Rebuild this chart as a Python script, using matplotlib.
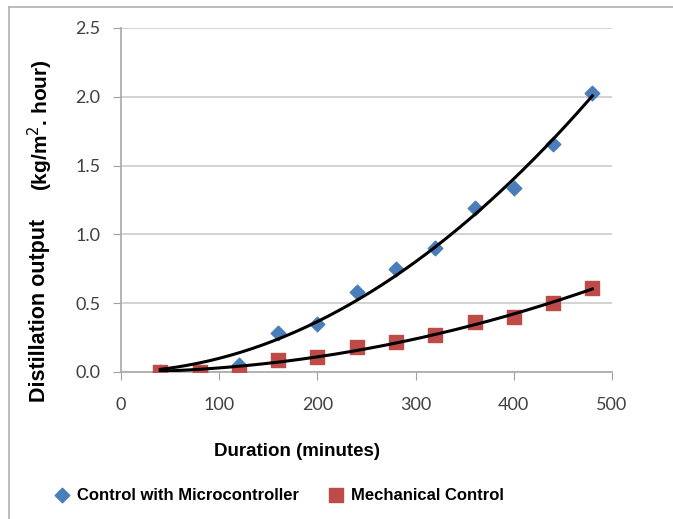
import numpy as np
import matplotlib
matplotlib.use('Agg')
import matplotlib.pyplot as plt
from matplotlib.lines import Line2D

# data
duration = [40, 80, 120, 160, 200, 240, 280, 320, 360, 400, 440, 480]
micro = [0.0, 0.0, 0.05, 0.28, 0.35, 0.58, 0.75, 0.90, 1.19, 1.34, 1.66, 2.03]
mech = [0.0, 0.0, 0.0, 0.09, 0.11, 0.18, 0.22, 0.27, 0.36, 0.40, 0.50, 0.61]

xticks = [0, 100, 200, 300, 400, 500]
yticks = [0.0, 0.5, 1.0, 1.5, 2.0, 2.5]

label_font = ['Liberation Sans Narrow', 'Liberation Sans', 'DejaVu Sans']
tick_font = ['Lato', 'DejaVu Sans']

fig = plt.figure(figsize=(6.73, 5.19), dpi=100)
ax = fig.add_axes([121/673, 1 - 372/519, 491/673, 344/519])

ax.scatter(duration, micro, marker='D', s=55, color='#4a7ebb', zorder=3,
           label='Control with Microcontroller')
ax.scatter(duration, mech, marker='s', s=110, color='#be4b48', zorder=3,
           label='Mechanical Control')

# 2nd order trend lines, intercept set to 0
x = np.array(duration, float)
xs = np.linspace(x[0], x[-1], 200)
A = np.column_stack([x**2, x])
for ys in (micro, mech):
    c, *_ = np.linalg.lstsq(A, np.array(ys), rcond=None)
    ax.plot(xs, c[0]*xs**2 + c[1]*xs, color='black', lw=2.2, zorder=4)

ax.set_xlim(0, 500)
ax.set_ylim(0, 2.5)
ax.set_xticks(xticks)
ax.set_yticks(yticks)
ax.set_yticklabels([f'{v:.1f}' for v in yticks])
for lab in ax.get_xticklabels() + ax.get_yticklabels():
    lab.set_family(tick_font)
    lab.set_fontsize(13)
    lab.set_color('#404040')
ax.tick_params(axis='both', length=6, color='#a0a0a0')
ax.tick_params(axis='x', pad=12)
ax.tick_params(axis='y', pad=9)
ax.grid(axis='y', color='#cccccc', lw=1.2)
ax.set_axisbelow(True)
for s in ('top', 'right'):
    ax.spines[s].set_visible(False)
for s in ('left', 'bottom'):
    ax.spines[s].set_color('#a8a8a8')
    ax.spines[s].set_linewidth(1.2)

fig.text(297/673, 1 - 452/519, 'Duration (minutes)', ha='center', va='center',
         fontsize=13.5, fontweight='bold', family=label_font)
fig.text(40/673, 1 - 310/519, 'Distillation output', rotation=90, ha='center',
         va='center', fontsize=15.5, fontweight='bold', family=label_font)
fig.text(40/673, 1 - 125/519, '(kg/m$^2$. hour)', rotation=90, ha='center',
         va='center', fontsize=15, fontweight='bold', family=label_font)

leg = fig.legend(loc='center left', bbox_to_anchor=(52/673, 1 - 495/519), ncol=2,
                 frameon=False, handletextpad=0.3, columnspacing=1.6,
                 handlelength=1.2, borderaxespad=0, borderpad=0,
                 prop={'family': label_font, 'weight': 'bold', 'size': 12})

# outer frame (top and left)
fig.add_artist(Line2D([9/673, 1], [1 - 7/519, 1 - 7/519], color='#b0b0b0', lw=1.2))
fig.add_artist(Line2D([9/673, 9/673], [0, 1 - 7/519], color='#b0b0b0', lw=1.2))

fig.savefig('out.png', dpi=100)
